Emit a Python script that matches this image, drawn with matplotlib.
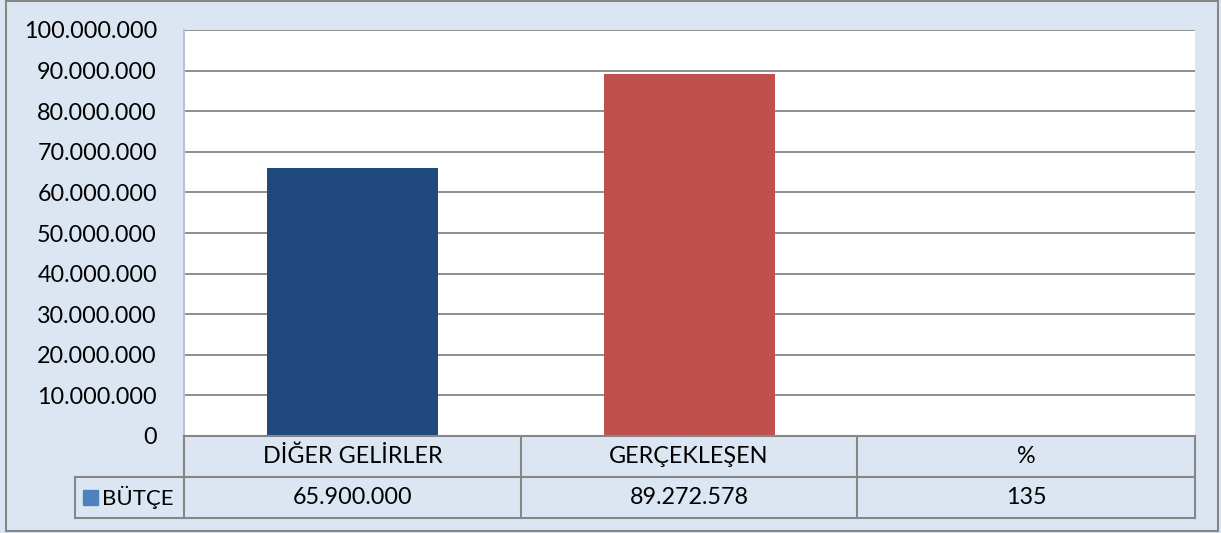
import matplotlib
matplotlib.use("Agg")
import matplotlib.pyplot as plt
from matplotlib.patches import Rectangle
from matplotlib.ticker import FuncFormatter

categories = ["DİĞER GELİRLER", "GERÇEKLEŞEN", "%"]
values = [65900000, 89272578, 135]
series_name = "BÜTÇE"
bar_colors = ["#1F497D", "#C0504D", "#9BBB59"]
legend_color = "#4F81BD"
yticks = list(range(0, 100000001, 10000000))

W, H = 1221, 533
plt.rcParams['font.family'] = ['Lato', 'DejaVu Sans']
FS = 16.8
bg = "#DCE6F2"
line_c = "#868686"

fig = plt.figure(figsize=(W / 100, H / 100), dpi=100, facecolor=bg)

def fx(x):
    return x / W

def fy(y):
    return 1 - y / H

# outer border
fig.add_artist(Rectangle((fx(6), fy(531)), fx(1218) - fx(6), fy(1) - fy(531),
                         transform=fig.transFigure, fill=False, edgecolor=line_c, lw=1.5))

L, R, T, B = 184, 1195, 30, 436
ax = fig.add_axes([fx(L), fy(B), fx(R) - fx(L), fy(T) - fy(B)])
ax.set_facecolor("white")
x = list(range(len(categories)))
ax.bar(x, values, width=0.51, color=bar_colors, zorder=3)
ax.set_xlim(-0.5, len(categories) - 0.5)
ax.set_ylim(0, 100000000)
ax.set_yticks(yticks)
ax.yaxis.set_major_formatter(FuncFormatter(lambda v, p: f"{int(v):,}".replace(",", ".")))
ax.tick_params(axis='y', length=0, pad=19.5, labelsize=FS)
ax.set_xticks([])
ax.grid(axis='y', color=line_c, lw=1.3, zorder=1)
for s in ["top", "right", "bottom"]:
    ax.spines[s].set_visible(False)
ax.spines["left"].set_color("#B9C3D6")
ax.spines["left"].set_linewidth(1.5)

# data table
rows = [436, 477, 518]
cols = [184, 521, 857, 1195]
legend_left = 75

def hline(x0, x1, y):
    fig.add_artist(plt.Line2D([fx(x0), fx(x1)], [fy(y), fy(y)], transform=fig.transFigure,
                              color=line_c, lw=1.5))

def vline(x, y0, y1):
    fig.add_artist(plt.Line2D([fx(x), fx(x)], [fy(y0), fy(y1)], transform=fig.transFigure,
                              color=line_c, lw=1.5))

hline(cols[0], cols[-1], rows[0])
hline(legend_left, cols[-1], rows[1])
hline(legend_left, cols[-1], rows[2])
for c in cols:
    vline(c, rows[0], rows[2])
vline(legend_left, rows[1], rows[2])

for i, cat in enumerate(categories):
    cx = (cols[i] + cols[i + 1]) / 2
    fig.text(fx(cx), fy((rows[0] + rows[1]) / 2), cat, ha='center', va='center', fontsize=FS)
    fig.text(fx(cx), fy((rows[1] + rows[2]) / 2), f"{values[i]:,}".replace(",", "."),
             ha='center', va='center', fontsize=FS)

fig.add_artist(Rectangle((fx(83), fy(505)), fx(98) - fx(83), fy(490) - fy(505),
                         transform=fig.transFigure, color=legend_color))
fig.text(fx(102), fy((rows[1] + rows[2]) / 2), series_name, ha='left', va='center', fontsize=16)

fig.savefig("out.png", dpi=100, facecolor=bg)
